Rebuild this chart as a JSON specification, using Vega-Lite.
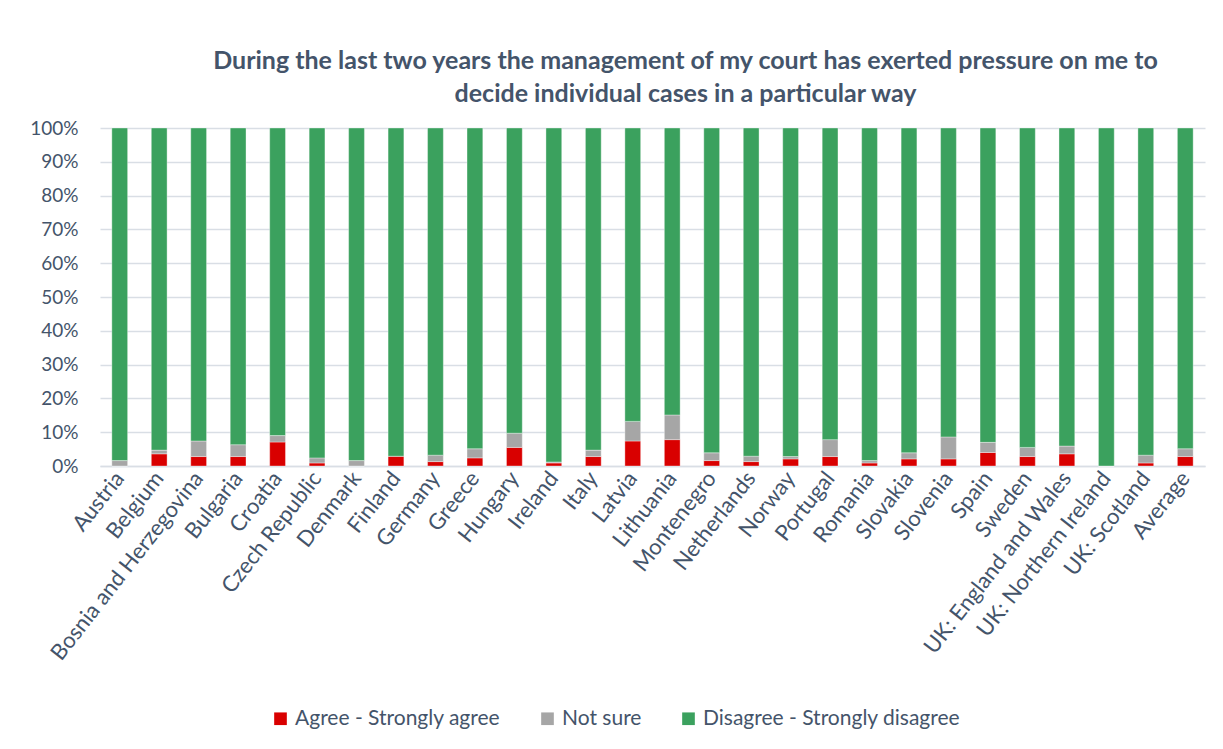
{
  "$schema": "https://vega.github.io/schema/vega-lite/v6.json",
  "width": 1105,
  "height": 338,
  "autosize": {"type": "none"},
  "padding": {"left": 100, "top": 128, "right": 18, "bottom": 283},
  "background": "white",
  "title": {
    "text": ["During the last two years the management of my court has exerted pressure on me to", "decide individual cases in a particular way"],
    "font": "Lato",
    "fontSize": 25,
    "fontWeight": "bold",
    "color": "#44546A",
    "anchor": "middle",
    "dx": 33,
    "offset": 12,
    "lineHeight": 33
  },
  "data": {
    "values": [
      {"c":"Austria","r":"Agree - Strongly agree","k":1,"v":0},{"c":"Austria","r":"Not sure","k":2,"v":1.6},{"c":"Austria","r":"Disagree - Strongly disagree","k":3,"v":98.4},
      {"c":"Belgium","r":"Agree - Strongly agree","k":1,"v":3.6},{"c":"Belgium","r":"Not sure","k":2,"v":1.1},{"c":"Belgium","r":"Disagree - Strongly disagree","k":3,"v":95.3},
      {"c":"Bosnia and Herzegovina","r":"Agree - Strongly agree","k":1,"v":2.8},{"c":"Bosnia and Herzegovina","r":"Not sure","k":2,"v":4.6},{"c":"Bosnia and Herzegovina","r":"Disagree - Strongly disagree","k":3,"v":92.6},
      {"c":"Bulgaria","r":"Agree - Strongly agree","k":1,"v":2.8},{"c":"Bulgaria","r":"Not sure","k":2,"v":3.5},{"c":"Bulgaria","r":"Disagree - Strongly disagree","k":3,"v":93.7},
      {"c":"Croatia","r":"Agree - Strongly agree","k":1,"v":7.1},{"c":"Croatia","r":"Not sure","k":2,"v":1.9},{"c":"Croatia","r":"Disagree - Strongly disagree","k":3,"v":91.0},
      {"c":"Czech Republic","r":"Agree - Strongly agree","k":1,"v":0.9},{"c":"Czech Republic","r":"Not sure","k":2,"v":1.5},{"c":"Czech Republic","r":"Disagree - Strongly disagree","k":3,"v":97.6},
      {"c":"Denmark","r":"Agree - Strongly agree","k":1,"v":0},{"c":"Denmark","r":"Not sure","k":2,"v":1.6},{"c":"Denmark","r":"Disagree - Strongly disagree","k":3,"v":98.4},
      {"c":"Finland","r":"Agree - Strongly agree","k":1,"v":2.9},{"c":"Finland","r":"Not sure","k":2,"v":0},{"c":"Finland","r":"Disagree - Strongly disagree","k":3,"v":97.1},
      {"c":"Germany","r":"Agree - Strongly agree","k":1,"v":1.3},{"c":"Germany","r":"Not sure","k":2,"v":1.9},{"c":"Germany","r":"Disagree - Strongly disagree","k":3,"v":96.8},
      {"c":"Greece","r":"Agree - Strongly agree","k":1,"v":2.4},{"c":"Greece","r":"Not sure","k":2,"v":2.7},{"c":"Greece","r":"Disagree - Strongly disagree","k":3,"v":94.9},
      {"c":"Hungary","r":"Agree - Strongly agree","k":1,"v":5.5},{"c":"Hungary","r":"Not sure","k":2,"v":4.2},{"c":"Hungary","r":"Disagree - Strongly disagree","k":3,"v":90.3},
      {"c":"Ireland","r":"Agree - Strongly agree","k":1,"v":0.9},{"c":"Ireland","r":"Not sure","k":2,"v":0.3},{"c":"Ireland","r":"Disagree - Strongly disagree","k":3,"v":98.8},
      {"c":"Italy","r":"Agree - Strongly agree","k":1,"v":2.8},{"c":"Italy","r":"Not sure","k":2,"v":1.9},{"c":"Italy","r":"Disagree - Strongly disagree","k":3,"v":95.3},
      {"c":"Latvia","r":"Agree - Strongly agree","k":1,"v":7.4},{"c":"Latvia","r":"Not sure","k":2,"v":5.8},{"c":"Latvia","r":"Disagree - Strongly disagree","k":3,"v":86.8},
      {"c":"Lithuania","r":"Agree - Strongly agree","k":1,"v":7.8},{"c":"Lithuania","r":"Not sure","k":2,"v":7.3},{"c":"Lithuania","r":"Disagree - Strongly disagree","k":3,"v":84.9},
      {"c":"Montenegro","r":"Agree - Strongly agree","k":1,"v":1.6},{"c":"Montenegro","r":"Not sure","k":2,"v":2.3},{"c":"Montenegro","r":"Disagree - Strongly disagree","k":3,"v":96.1},
      {"c":"Netherlands","r":"Agree - Strongly agree","k":1,"v":1.3},{"c":"Netherlands","r":"Not sure","k":2,"v":1.6},{"c":"Netherlands","r":"Disagree - Strongly disagree","k":3,"v":97.1},
      {"c":"Norway","r":"Agree - Strongly agree","k":1,"v":2.1},{"c":"Norway","r":"Not sure","k":2,"v":0.7},{"c":"Norway","r":"Disagree - Strongly disagree","k":3,"v":97.2},
      {"c":"Portugal","r":"Agree - Strongly agree","k":1,"v":2.8},{"c":"Portugal","r":"Not sure","k":2,"v":5.0},{"c":"Portugal","r":"Disagree - Strongly disagree","k":3,"v":92.2},
      {"c":"Romania","r":"Agree - Strongly agree","k":1,"v":0.9},{"c":"Romania","r":"Not sure","k":2,"v":0.7},{"c":"Romania","r":"Disagree - Strongly disagree","k":3,"v":98.4},
      {"c":"Slovakia","r":"Agree - Strongly agree","k":1,"v":2.1},{"c":"Slovakia","r":"Not sure","k":2,"v":1.8},{"c":"Slovakia","r":"Disagree - Strongly disagree","k":3,"v":96.1},
      {"c":"Slovenia","r":"Agree - Strongly agree","k":1,"v":2.1},{"c":"Slovenia","r":"Not sure","k":2,"v":6.5},{"c":"Slovenia","r":"Disagree - Strongly disagree","k":3,"v":91.4},
      {"c":"Spain","r":"Agree - Strongly agree","k":1,"v":4.0},{"c":"Spain","r":"Not sure","k":2,"v":3.0},{"c":"Spain","r":"Disagree - Strongly disagree","k":3,"v":93.0},
      {"c":"Sweden","r":"Agree - Strongly agree","k":1,"v":2.8},{"c":"Sweden","r":"Not sure","k":2,"v":2.7},{"c":"Sweden","r":"Disagree - Strongly disagree","k":3,"v":94.5},
      {"c":"UK: England and Wales","r":"Agree - Strongly agree","k":1,"v":3.6},{"c":"UK: England and Wales","r":"Not sure","k":2,"v":2.3},{"c":"UK: England and Wales","r":"Disagree - Strongly disagree","k":3,"v":94.1},
      {"c":"UK: Northern Ireland","r":"Agree - Strongly agree","k":1,"v":0},{"c":"UK: Northern Ireland","r":"Not sure","k":2,"v":0},{"c":"UK: Northern Ireland","r":"Disagree - Strongly disagree","k":3,"v":100},
      {"c":"UK: Scotland","r":"Agree - Strongly agree","k":1,"v":0.9},{"c":"UK: Scotland","r":"Not sure","k":2,"v":2.3},{"c":"UK: Scotland","r":"Disagree - Strongly disagree","k":3,"v":96.8},
      {"c":"Average","r":"Agree - Strongly agree","k":1,"v":2.8},{"c":"Average","r":"Not sure","k":2,"v":2.3},{"c":"Average","r":"Disagree - Strongly disagree","k":3,"v":94.9}
    ]
  },
  "mark": {"type": "bar", "stroke": "white", "strokeWidth": 0.6, "strokeOpacity": 0.6},
  "encoding": {
    "x": {
      "field": "c",
      "type": "nominal",
      "sort": null,
      "scale": {"paddingInner": 0.6, "paddingOuter": 0.3},
      "axis": {
        "title": null,
        "labelAngle": -52,
        "labelFont": "Lato",
        "labelFontSize": 22,
        "labelColor": "#44546A",
        "labelLimit": 400,
        "ticks": false,
        "domainColor": "#D9DEE5",
        "domainWidth": 1.5,
        "labelPadding": 8
      }
    },
    "y": {
      "field": "v",
      "type": "quantitative",
      "stack": "zero",
      "scale": {"domain": [0, 100], "nice": false},
      "axis": {
        "title": null,
        "values": [0, 10, 20, 30, 40, 50, 60, 70, 80, 90, 100],
        "labelExpr": "datum.value + '%'",
        "labelFont": "Lato",
        "labelFontSize": 19,
        "labelColor": "#44546A",
        "ticks": false,
        "domain": false,
        "gridColor": "#D9DEE5",
        "gridWidth": 1.5,
        "labelPadding": 22
      }
    },
    "color": {
      "field": "r",
      "type": "nominal",
      "scale": {
        "domain": ["Agree - Strongly agree", "Not sure", "Disagree - Strongly disagree"],
        "range": ["#D90000", "#A6A6A6", "#3BA15E"]
      },
      "legend": {
        "title": null,
        "orient": "none",
        "direction": "horizontal",
        "legendX": 170,
        "legendY": 580,
        "symbolType": "square",
        "symbolSize": 160,
        "symbolStrokeWidth": 0,
        "labelFont": "Lato",
        "labelFontSize": 21,
        "labelColor": "#44546A",
        "labelLimit": 400,
        "columnPadding": 36,
        "labelOffset": 4
      }
    },
    "order": {"field": "k", "type": "quantitative"}
  },
  "config": {"view": {"stroke": null}}
}
